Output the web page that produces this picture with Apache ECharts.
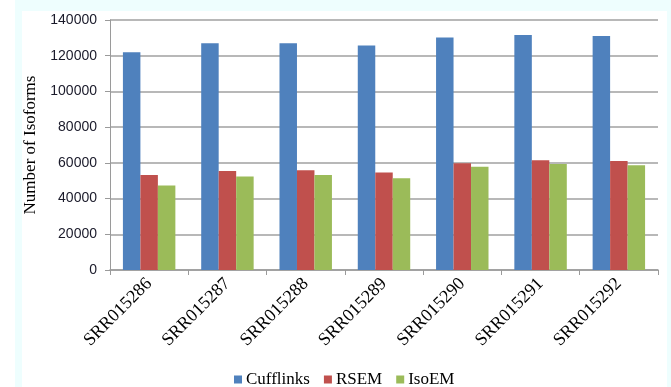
<!DOCTYPE html>
<html>
<head>
<meta charset="utf-8">
<script src="https://cdn.jsdelivr.net/npm/echarts@6/dist/echarts.min.js"></script>
<style>
  html, body { margin: 0; padding: 0; background: #ffffff; }
  #chart { width: 671px; height: 387px; }
</style>
</head>
<body>
<div id="chart"></div>
<script>
// Samples (SRA runs) on the x axis
const samples = ['SRR015286', 'SRR015287', 'SRR015288', 'SRR015289', 'SRR015290', 'SRR015291', 'SRR015292'];

// Number of isoforms reported by each method
const cufflinks = [122000, 127000, 127000, 125700, 130200, 131600, 131100];
const rsem      = [53200, 55500, 55900, 54600, 59800, 61500, 61000];
const isoem     = [47300, 52300, 53200, 51400, 57800, 59300, 58700];

// Value axis range
const yMin = 0, yMax = 140000, yStep = 20000;

const chart = echarts.init(document.getElementById('chart'), null, { renderer: 'canvas' });

const serifFont = '"Liberation Serif", "Times New Roman", serif';
const sansFont = '"Liberation Sans", Arial, sans-serif';

function barSeries(name, values, color) {
  return {
    name: name,
    type: 'bar',
    data: values,
    barGap: '0%',
    barCategoryGap: '33%',
    itemStyle: { color: color },
    emphasis: { disabled: true }
  };
}

chart.setOption({
  animation: false,
  backgroundColor: '#ffffff',
  graphic: [
    // pale frame around the figure
    { type: 'rect', left: 15, top: 0, shape: { width: 7, height: 387 }, style: { fill: '#eefefe' }, silent: true },
    { type: 'rect', left: 15, top: 0, shape: { width: 656, height: 11 }, style: { fill: '#eefefe' }, silent: true },
    { type: 'rect', left: 667, top: 0, shape: { width: 4, height: 387 }, style: { fill: '#eefefe' }, silent: true }
  ],
  grid: { left: 110, right: 13, top: 20, bottom: 117, containLabel: false },
  legend: {
    data: ['Cufflinks', 'RSEM', 'IsoEM'],
    left: 229,
    top: 366,
    itemWidth: 8,
    itemHeight: 8,
    itemGap: 14,
    icon: 'rect',
    textStyle: { fontFamily: serifFont, fontSize: 17, color: '#000', padding: [0, 0, 0, -1] }
  },
  xAxis: {
    type: 'category',
    data: samples,
    axisLine: { lineStyle: { color: '#9a9a9a', width: 1.5 } },
    axisTick: { show: true, length: 5, lineStyle: { color: '#9a9a9a' } },
    axisLabel: {
      rotate: 45,
      margin: 11,
      fontFamily: serifFont,
      fontSize: 18,
      color: '#000'
    }
  },
  yAxis: {
    type: 'value',
    min: yMin,
    max: yMax,
    interval: yStep,
    name: 'Number of Isoforms',
    nameLocation: 'middle',
    nameGap: 68,
    nameTextStyle: { fontFamily: serifFont, fontSize: 17, color: '#000' },
    axisLine: { show: true, lineStyle: { color: '#9a9a9a', width: 1 } },
    axisTick: { show: true, length: 5, lineStyle: { color: '#9a9a9a' } },
    axisLabel: {
      margin: 13,
      fontFamily: sansFont,
      fontSize: 14,
      color: '#1a1a2a',
      formatter: function (v) { return String(v); }
    },
    splitLine: { lineStyle: { color: '#a0a0a0', width: 1.5 } }
  },
  series: [
    barSeries('Cufflinks', cufflinks, '#4f81bd'),
    barSeries('RSEM', rsem, '#c0504d'),
    barSeries('IsoEM', isoem, '#9bbb59')
  ]
});
</script>
</body>
</html>
